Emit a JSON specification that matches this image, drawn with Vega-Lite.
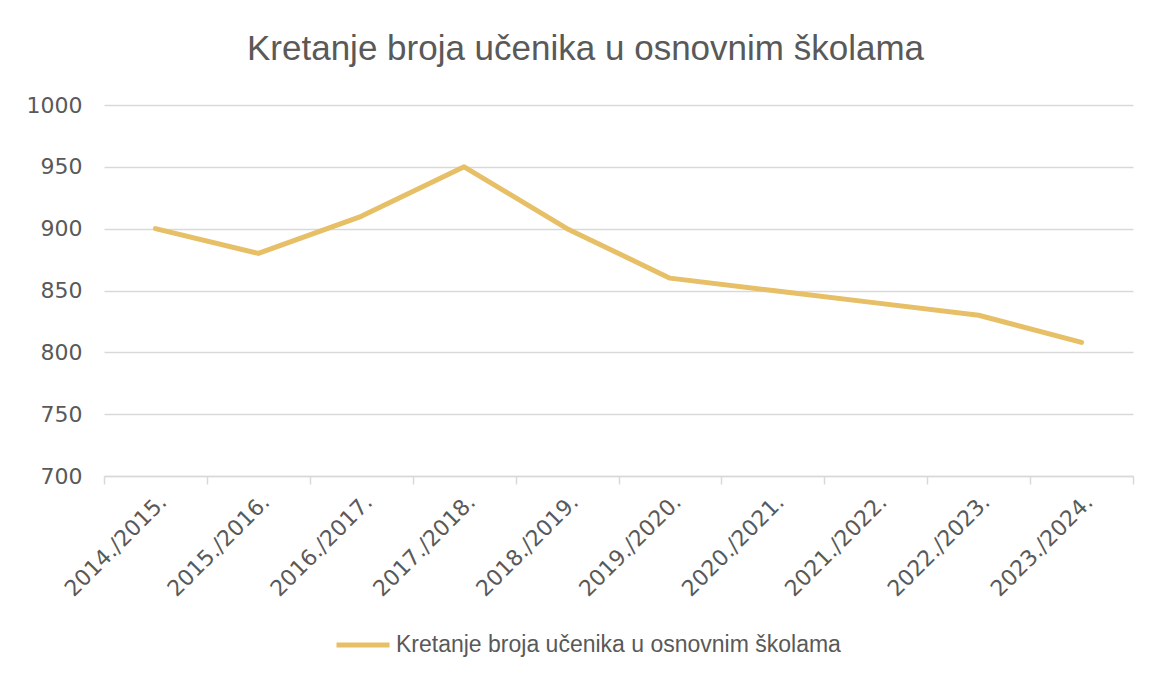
{
  "$schema": "https://vega.github.io/schema/vega-lite/v6.json",
  "width": 1029,
  "height": 371,
  "autosize": {"type": "none"},
  "padding": {"left": 104, "top": 105, "right": 20, "bottom": 199},
  "background": "white",
  "title": {
    "text": "Kretanje broja učenika u osnovnim školama",
    "font": "Liberation Sans",
    "fontSize": 35,
    "fontWeight": "normal",
    "color": "#595959",
    "anchor": "middle",
    "dx": -33,
    "offset": 27
  },
  "data": {
    "values": [
      {"godina": "2014./2015.", "broj": 900},
      {"godina": "2015./2016.", "broj": 880},
      {"godina": "2016./2017.", "broj": 910},
      {"godina": "2017./2018.", "broj": 950},
      {"godina": "2018./2019.", "broj": 900},
      {"godina": "2019./2020.", "broj": 860},
      {"godina": "2020./2021.", "broj": 850},
      {"godina": "2021./2022.", "broj": 840},
      {"godina": "2022./2023.", "broj": 830},
      {"godina": "2023./2024.", "broj": 808}
    ]
  },
  "mark": {"type": "line", "strokeWidth": 5, "strokeCap": "round", "strokeJoin": "round"},
  "encoding": {
    "x": {
      "field": "godina",
      "type": "nominal",
      "sort": null,
      "bandPosition": 0.5,
      "scale": {"type": "band", "paddingInner": 0, "paddingOuter": 0},
      "axis": {
        "title": null,
        "labelAngle": -45,
        "labelFont": "DejaVu Sans",
        "labelFontSize": 22,
        "labelColor": "#595959",
        "labelPadding": 7,
        "tickBand": "extent",
        "tickSize": 8,
        "tickColor": "#D9D9D9",
        "tickWidth": 1.5,
        "domainColor": "#D9D9D9",
        "domainWidth": 1.5,
        "grid": false
      }
    },
    "y": {
      "field": "broj",
      "type": "quantitative",
      "scale": {"domain": [700, 1000], "nice": false, "zero": false},
      "axis": {
        "title": null,
        "format": "d",
        "values": [700, 750, 800, 850, 900, 950, 1000],
        "labelFont": "DejaVu Sans",
        "labelFontSize": 22,
        "labelColor": "#595959",
        "labelPadding": 22,
        "ticks": false,
        "domain": false,
        "grid": true,
        "gridColor": "#D9D9D9",
        "gridWidth": 1.5
      }
    },
    "color": {
      "datum": "Kretanje broja učenika u osnovnim školama",
      "type": "nominal",
      "scale": {"range": ["#E6BF66"]},
      "legend": {
        "title": null,
        "orient": "none",
        "legendX": 230,
        "legendY": 511,
        "symbolType": "stroke",
        "symbolSize": 2809,
        "symbolStrokeWidth": 5,
        "labelFont": "Liberation Sans",
        "labelFontSize": 23,
        "labelColor": "#595959",
        "labelOffset": 4,
        "labelLimit": 0
      }
    }
  },
  "config": {
    "view": {"stroke": null}
  }
}
